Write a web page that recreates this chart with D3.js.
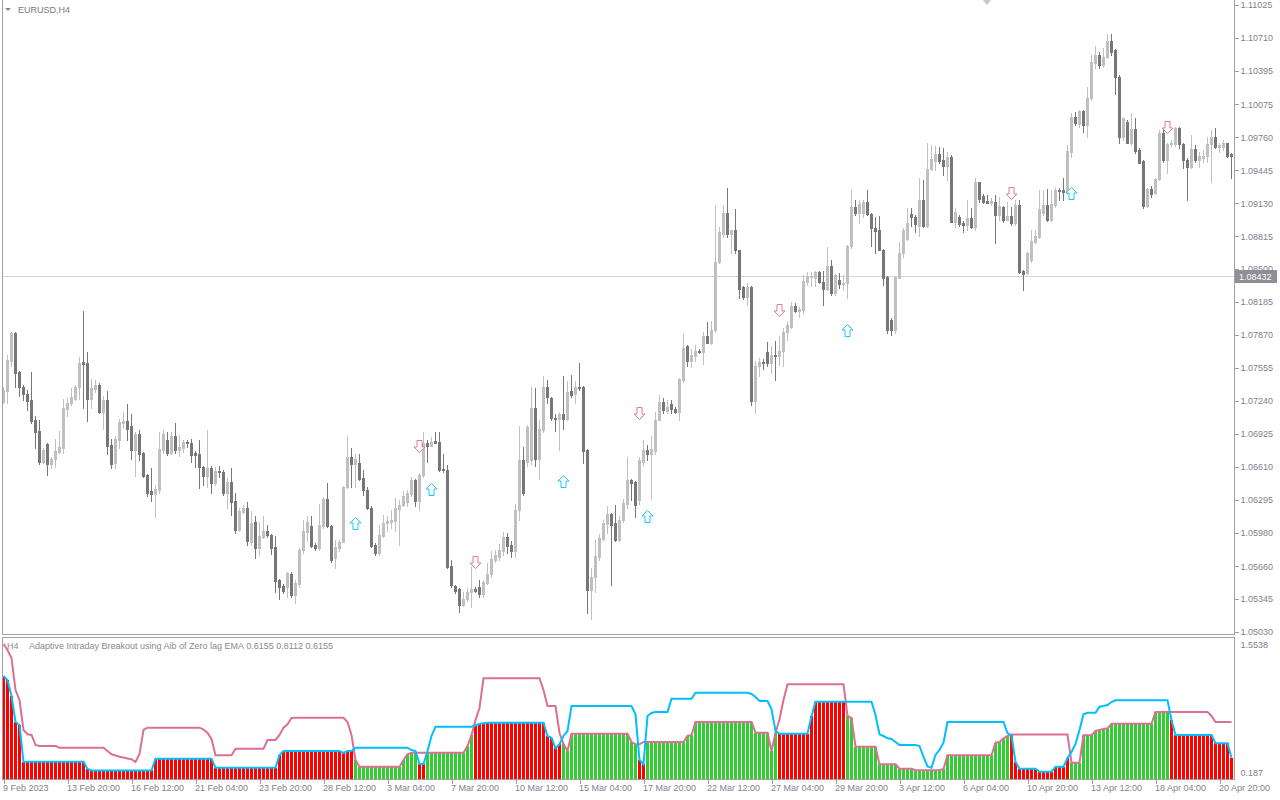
<!DOCTYPE html>
<html><head><meta charset="utf-8">
<script src="https://cdn.jsdelivr.net/npm/d3@7"></script>
<style>
html,body{margin:0;padding:0;background:#fff;overflow:hidden;}
svg{display:block;}
text{font-family:"Liberation Sans",Arial,sans-serif;font-size:9px;}
</style></head><body>
<svg id="c" width="1280" height="800"></svg>
<script>
// ---------- DATA ----------
const symbolTitle = "EURUSD,H4";
const indicatorTitle = "Adaptive Intraday Breakout using Aib of Zero lag EMA 0.6155 0.8112 0.6155";
const opens=[
1.0723,1.0733,1.0762,1.0789,1.0752,1.0737,1.0731,1.0725,1.0706,1.0695,
1.0666,1.0683,1.0664,1.0668,1.0675,1.0679,1.0716,1.0722,1.0726,1.0737,
1.0761,1.0760,1.0726,1.0735,1.0739,1.0713,1.0725,1.0682,1.0665,1.0687,
1.0703,1.0705,1.0700,1.0677,1.0692,1.0674,1.0653,1.0638,1.0635,1.0639,
1.0677,1.0687,1.0674,1.0690,1.0677,1.0679,1.0685,1.0684,1.0674,1.0673,
1.0661,1.0652,1.0660,1.0645,1.0657,1.0656,1.0636,1.0646,1.0628,1.0601,
1.0618,1.0622,1.0589,1.0608,1.0583,1.0594,1.0600,1.0596,1.0584,1.0553,
1.0547,1.0546,1.0558,1.0538,1.0549,1.0581,1.0599,1.0604,1.0586,1.0583,
1.0604,1.0630,1.0604,1.0574,1.0583,1.0589,1.0642,1.0670,1.0664,1.0665,
1.0650,1.0639,1.0622,1.0586,1.0579,1.0595,1.0607,1.0608,1.0609,1.0621,
1.0624,1.0627,1.0635,1.0648,1.0628,1.0653,1.0684,1.0681,1.0686,1.0685,
1.0659,1.0658,1.0566,1.0547,1.0544,1.0529,1.0535,1.0541,1.0544,1.0546,
1.0539,1.0550,1.0558,1.0572,1.0575,1.0580,1.0594,1.0586,1.0580,1.0620,
1.0667,1.0666,1.0667,1.0717,1.0668,1.0696,1.0737,1.0727,1.0708,1.0707,
1.0711,1.0707,1.0733,1.0731,1.0737,1.0737,1.0677,1.0543,1.0556,1.0575,
1.0592,1.0606,1.0616,1.0607,1.0591,1.0610,1.0625,1.0648,1.0646,1.0629,
1.0666,1.0677,1.0673,1.0676,1.0706,1.0723,1.0714,1.0721,1.0716,1.0713,
1.0744,1.0776,1.0762,1.0767,1.0772,1.0771,1.0786,1.0779,1.0792,1.0857,
1.0884,1.0904,1.0884,1.0887,1.0868,1.0833,1.0823,1.0833,1.0724,1.0757,
1.0761,1.0771,1.0760,1.0768,1.0767,1.0772,1.0790,1.0795,1.0815,1.0810,
1.0811,1.0838,1.0842,1.0841,1.0847,1.0838,1.0831,1.0853,1.0827,1.0840,
1.0836,1.0837,1.0872,1.0909,1.0904,1.0904,1.0914,1.0903,1.0889,1.0887,
1.0868,1.0842,1.0801,1.0792,1.0841,1.0865,1.0879,1.0903,1.0900,1.0891,
1.0916,1.0891,1.0946,1.0953,1.0960,1.0954,1.0949,1.0957,1.0895,1.0900,
1.0894,1.0892,1.0899,1.0890,1.0933,1.0920,1.0915,1.0913,1.0914,1.0902,
1.0909,1.0897,1.0901,1.0894,1.0911,1.0848,1.0846,1.0859,1.0876,1.0881,
1.0904,1.0911,1.0897,1.0911,1.0926,1.0926,1.0924,1.0962,1.0995,1.0989,
1.1001,1.0988,1.1014,1.1047,1.1055,1.1045,1.1053,1.1068,1.1059,1.1034,
1.0976,1.0991,1.0971,1.0984,1.0964,1.0953,1.0910,1.0927,1.0923,1.0936,
1.0980,1.0954,1.0970,1.0970,1.0985,1.0970,1.0954,1.0948,1.0965,1.0954,
1.0956,1.0958,1.0970,1.0976,1.0967,1.0967,1.0971,1.0960];
const highs=[
1.0737,1.0768,1.0790,1.0790,1.0753,1.0739,1.0734,1.0752,1.0710,1.0706,
1.0679,1.0684,1.0670,1.0688,1.0695,1.0726,1.0727,1.0736,1.0739,1.0766,
1.0810,1.0771,1.0745,1.0744,1.0741,1.0729,1.0733,1.0688,1.0690,1.0707,
1.0713,1.0721,1.0711,1.0694,1.0696,1.0675,1.0654,1.0660,1.0644,1.0694,
1.0696,1.0694,1.0694,1.0703,1.0691,1.0687,1.0687,1.0688,1.0676,1.0687,
1.0662,1.0696,1.0662,1.0661,1.0662,1.0658,1.0650,1.0660,1.0636,1.0622,
1.0624,1.0627,1.0619,1.0614,1.0608,1.0614,1.0605,1.0597,1.0595,1.0554,
1.0549,1.0560,1.0560,1.0553,1.0583,1.0610,1.0614,1.0614,1.0588,1.0625,
1.0632,1.0645,1.0605,1.0591,1.0591,1.0643,1.0690,1.0679,1.0673,1.0673,
1.0658,1.0642,1.0623,1.0588,1.0605,1.0615,1.0614,1.0620,1.0631,1.0629,
1.0638,1.0639,1.0651,1.0649,1.0655,1.0694,1.0687,1.0689,1.0694,1.0694,
1.0673,1.0663,1.0572,1.0548,1.0545,1.0541,1.0545,1.0565,1.0546,1.0553,
1.0553,1.0569,1.0580,1.0581,1.0587,1.0599,1.0598,1.0590,1.0625,1.0700,
1.0680,1.0701,1.0737,1.0736,1.0706,1.0748,1.0744,1.0728,1.0711,1.0713,
1.0748,1.0743,1.0749,1.0743,1.0760,1.0738,1.0678,1.0564,1.0591,1.0597,
1.0610,1.0623,1.0617,1.0624,1.0614,1.0630,1.0670,1.0649,1.0647,1.0670,
1.0687,1.0682,1.0690,1.0713,1.0730,1.0727,1.0725,1.0725,1.0718,1.0746,
1.0788,1.0777,1.0774,1.0777,1.0774,1.0790,1.0799,1.0800,1.0911,1.0890,
1.0911,1.0928,1.0887,1.0907,1.0868,1.0834,1.0837,1.0834,1.0762,1.0765,
1.0764,1.0780,1.0776,1.0781,1.0786,1.0794,1.0800,1.0819,1.0818,1.0814,
1.0844,1.0847,1.0847,1.0848,1.0848,1.0848,1.0871,1.0859,1.0845,1.0846,
1.0844,1.0873,1.0926,1.0916,1.0916,1.0916,1.0926,1.0904,1.0900,1.0901,
1.0869,1.0843,1.0803,1.0843,1.0876,1.0889,1.0908,1.0908,1.0902,1.0937,
1.0935,1.0971,1.0969,1.0968,1.0967,1.0966,1.0962,1.0959,1.0908,1.0902,
1.0896,1.0916,1.0908,1.0937,1.0933,1.0922,1.0921,1.0918,1.0921,1.0919,
1.0910,1.0914,1.0909,1.0916,1.0916,1.0849,1.0866,1.0887,1.0887,1.0926,
1.0926,1.0927,1.0926,1.0928,1.0928,1.0937,1.0969,1.0999,1.1000,1.1002,
1.1002,1.1024,1.1055,1.1063,1.1058,1.1061,1.1075,1.1075,1.1060,1.1036,
1.0995,1.0993,1.0999,1.0994,1.0966,1.0954,1.0928,1.0929,1.0937,1.0983,
1.0983,1.0971,1.0973,1.0986,1.0986,1.0971,1.0956,1.0978,1.0969,1.0962,
1.0964,1.0976,1.0983,1.0985,1.0971,1.0973,1.0971,1.0961];
const lows=[
1.0722,1.0722,1.0757,1.0737,1.0729,1.0725,1.0715,1.0703,1.0679,1.0664,
1.0665,1.0653,1.0660,1.0661,1.0674,1.0674,1.0710,1.0720,1.0725,1.0726,
1.0717,1.0705,1.0717,1.0732,1.0712,1.0697,1.0673,1.0660,1.0660,1.0679,
1.0698,1.0687,1.0668,1.0652,1.0667,1.0651,1.0633,1.0628,1.0613,1.0636,
1.0674,1.0672,1.0673,1.0674,1.0671,1.0675,1.0680,1.0666,1.0661,1.0641,
1.0644,1.0642,1.0636,1.0644,1.0651,1.0634,1.0622,1.0615,1.0598,1.0600,
1.0617,1.0586,1.0586,1.0574,1.0577,1.0593,1.0594,1.0578,1.0541,1.0535,
1.0540,1.0536,1.0536,1.0531,1.0546,1.0579,1.0590,1.0584,1.0581,1.0581,
1.0602,1.0603,1.0570,1.0564,1.0580,1.0589,1.0641,1.0642,1.0642,1.0648,
1.0634,1.0621,1.0584,1.0577,1.0577,1.0594,1.0600,1.0602,1.0600,1.0586,
1.0623,1.0623,1.0633,1.0623,1.0620,1.0651,1.0666,1.0681,1.0684,1.0657,
1.0656,1.0564,1.0546,1.0540,1.0522,1.0528,1.0533,1.0527,1.0541,1.0536,
1.0536,1.0549,1.0556,1.0570,1.0572,1.0577,1.0579,1.0575,1.0575,1.0610,
1.0634,1.0662,1.0664,1.0662,1.0649,1.0694,1.0722,1.0706,1.0695,1.0677,
1.0697,1.0706,1.0728,1.0722,1.0734,1.0665,1.0521,1.0515,1.0541,1.0572,
1.0591,1.0598,1.0548,1.0590,1.0590,1.0608,1.0622,1.0629,1.0613,1.0625,
1.0662,1.0667,1.0630,1.0673,1.0706,1.0712,1.0712,1.0712,1.0712,1.0706,
1.0742,1.0757,1.0756,1.0762,1.0770,1.0759,1.0779,1.0778,1.0790,1.0856,
1.0881,1.0881,1.0865,1.0865,1.0822,1.0821,1.0816,1.0720,1.0712,1.0748,
1.0754,1.0757,1.0751,1.0744,1.0758,1.0757,1.0782,1.0794,1.0809,1.0804,
1.0808,1.0835,1.0834,1.0834,1.0837,1.0816,1.0830,1.0825,1.0825,1.0832,
1.0830,1.0822,1.0870,1.0902,1.0894,1.0900,1.0902,1.0872,1.0865,1.0868,
1.0835,1.0789,1.0787,1.0789,1.0841,1.0862,1.0878,1.0891,1.0885,1.0882,
1.0890,1.0890,1.0945,1.0945,1.0951,1.0940,1.0935,1.0895,1.0890,1.0891,
1.0885,1.0887,1.0889,1.0887,1.0914,1.0913,1.0913,1.0911,1.0875,1.0897,
1.0895,1.0897,1.0892,1.0892,1.0846,1.0830,1.0845,1.0857,1.0875,1.0880,
1.0902,1.0896,1.0896,1.0909,1.0916,1.0916,1.0922,1.0957,1.0988,1.0986,
1.0981,1.0976,1.1012,1.1042,1.1042,1.1043,1.1052,1.1055,1.1017,1.0971,
1.0973,1.0971,1.0969,1.0961,1.0951,1.0908,1.0909,1.0919,1.0922,1.0935,
1.0952,1.0942,1.0968,1.0968,1.0966,1.0947,1.0916,1.0947,1.0952,1.0948,
1.0952,1.0952,1.0933,1.0966,1.0962,1.0964,1.0957,1.0937];
const closes=[
1.0734,1.0763,1.0789,1.0751,1.0737,1.0731,1.0724,1.0705,1.0694,1.0666,
1.0677,1.0664,1.0668,1.0676,1.0680,1.0717,1.0722,1.0728,1.0737,1.0760,
1.0759,1.0726,1.0736,1.0739,1.0713,1.0725,1.0681,1.0664,1.0688,1.0704,
1.0705,1.0697,1.0677,1.0692,1.0673,1.0652,1.0636,1.0635,1.0640,1.0678,
1.0692,1.0674,1.0690,1.0677,1.0680,1.0685,1.0684,1.0672,1.0672,1.0661,
1.0652,1.0660,1.0645,1.0657,1.0656,1.0636,1.0646,1.0627,1.0601,1.0619,
1.0622,1.0590,1.0607,1.0583,1.0595,1.0600,1.0596,1.0583,1.0552,1.0546,
1.0542,1.0559,1.0538,1.0550,1.0581,1.0600,1.0608,1.0585,1.0583,1.0605,
1.0630,1.0604,1.0572,1.0584,1.0589,1.0642,1.0670,1.0664,1.0668,1.0649,
1.0639,1.0622,1.0585,1.0579,1.0596,1.0607,1.0609,1.0610,1.0622,1.0624,
1.0633,1.0636,1.0648,1.0628,1.0653,1.0684,1.0681,1.0685,1.0684,1.0658,
1.0658,1.0565,1.0548,1.0542,1.0529,1.0535,1.0541,1.0544,1.0542,1.0539,
1.0551,1.0558,1.0573,1.0577,1.0581,1.0594,1.0585,1.0580,1.0620,1.0667,
1.0636,1.0699,1.0717,1.0668,1.0697,1.0737,1.0728,1.0708,1.0707,1.0711,
1.0707,1.0732,1.0730,1.0737,1.0736,1.0676,1.0543,1.0556,1.0576,1.0593,
1.0607,1.0616,1.0605,1.0591,1.0610,1.0626,1.0648,1.0645,1.0624,1.0667,
1.0677,1.0673,1.0678,1.0706,1.0723,1.0715,1.0718,1.0716,1.0713,1.0745,
1.0775,1.0762,1.0768,1.0772,1.0771,1.0786,1.0779,1.0792,1.0857,1.0885,
1.0904,1.0884,1.0887,1.0868,1.0831,1.0823,1.0833,1.0724,1.0757,1.0761,
1.0760,1.0760,1.0768,1.0767,1.0772,1.0790,1.0797,1.0815,1.0810,1.0812,
1.0839,1.0843,1.0843,1.0847,1.0838,1.0831,1.0853,1.0827,1.0844,1.0836,
1.0837,1.0872,1.0909,1.0904,1.0912,1.0914,1.0903,1.0889,1.0886,1.0868,
1.0841,1.0792,1.0792,1.0842,1.0865,1.0887,1.0894,1.0900,1.0893,1.0916,
1.0891,1.0946,1.0955,1.0960,1.0953,1.0949,1.0957,1.0895,1.0905,1.0893,
1.0892,1.0899,1.0890,1.0933,1.0917,1.0914,1.0913,1.0915,1.0902,1.0910,
1.0897,1.0901,1.0894,1.0911,1.0847,1.0845,1.0865,1.0877,1.0882,1.0907,
1.0911,1.0897,1.0912,1.0926,1.0925,1.0924,1.0963,1.0995,1.0990,1.1001,
1.0988,1.1014,1.1048,1.1055,1.1045,1.1053,1.1068,1.1058,1.1034,1.0976,
1.0994,1.0971,1.0984,1.0963,1.0951,1.0910,1.0927,1.0922,1.0936,1.0980,
1.0954,1.0970,1.0971,1.0985,1.0970,1.0954,1.0948,1.0965,1.0954,1.0958,
1.0958,1.0970,1.0976,1.0967,1.0969,1.0971,1.0958,1.0958];

// indicator buffers (one value per bar)
const aibCyan=[
1.2228,1.1801,1.0092,0.7316,0.6996,0.3045,
0.3077,0.3077,0.3077,0.3077,0.3077,0.3077,0.3077,0.3077,0.3077,0.3077,0.3077,0.3077,0.3077,0.3077,0.3077,
0.2297,
0.2137,0.2137,0.2137,0.2137,0.2137,0.2137,0.2137,0.2137,0.2137,0.2137,0.2137,0.2137,0.2137,0.2137,0.2137,0.2137,
0.3398,0.3398,0.3398,0.3398,0.3398,0.3398,0.3398,0.3398,0.3398,0.3398,0.3398,0.3398,0.3398,0.3398,0.3398,
0.2436,0.2436,0.2436,0.2436,0.2436,0.2436,0.2436,0.2436,0.2436,0.2436,0.2436,0.2436,0.2436,0.2436,0.2436,0.2436,
0.3793,
0.4219,0.4219,0.4219,0.4219,0.4219,0.4219,0.4219,0.4219,0.4219,0.4219,0.4219,0.4219,0.4219,0.4219,0.4219,
0.4006,0.4219,0.4219,
0.4572,0.4572,0.4572,0.4572,0.4572,0.4572,0.4572,0.4572,0.4572,0.4572,0.4572,0.4572,0.4572,0.4572,
0.4326,0.4219,0.2831,0.2831,0.4219,0.5821,
0.6814,0.6814,0.6814,0.6814,0.6814,0.6814,0.6814,0.6814,0.6814,0.6814,
0.6964,0.7102,0.7177,
0.7241,0.7241,0.7241,0.7241,0.7241,0.7241,0.7241,0.7241,0.7241,0.7241,0.7241,0.7241,0.7241,0.7241,0.7241,
0.5821,0.5640,0.4508,0.4935,0.5821,0.6356,
0.9024,0.9024,0.9024,0.9024,0.9024,0.9024,0.9024,0.9024,0.9024,0.9024,0.9024,0.9024,0.9024,0.9024,0.9024,0.9024,
0.8138,0.3258,0.2799,0.7957,0.8277,
0.8384,0.8384,0.8384,0.8384,
0.9804,0.9804,0.9804,0.9804,0.9804,0.9804,
1.0445,1.0445,1.0445,1.0445,1.0445,1.0445,1.0445,1.0445,1.0445,1.0445,1.0445,1.0445,1.0445,1.0445,
1.0306,0.9985,0.9558,0.9558,0.9558,0.8704,0.6356,
0.6067,0.6067,0.6067,0.6067,0.6067,0.6067,0.6067,0.6067,
0.7957,
0.9483,0.9483,0.9483,0.9483,0.9483,0.9483,0.9483,0.9483,0.9483,0.9483,0.9483,0.9483,0.9483,0.9483,0.9483,
0.8063,0.6003,0.5821,0.5576,0.5501,0.5181,
0.4861,0.4861,0.4861,0.4861,0.4861,
0.4754,0.3579,0.2564,0.2436,0.3793,0.4326,0.5106,
0.7316,0.7316,0.7316,0.7316,0.7316,0.7316,0.7316,0.7316,0.7316,0.7316,0.7316,0.7316,0.7316,0.7316,0.7316,
0.6142,0.5875,0.3045,
0.2329,0.2329,0.2329,0.2329,0.2329,
0.2009,0.2009,0.2009,0.2009,
0.2543,0.2543,0.2543,
0.3472,0.4113,0.4967,0.6462,0.8138,
0.8309,0.8309,0.8309,
0.8949,0.9024,0.9131,0.9451,
0.9633,0.9633,0.9633,0.9633,0.9633,0.9633,0.9633,0.9633,0.9633,0.9633,0.9633,0.9633,0.9633,0.9633,
0.7529,
0.5928,0.5928,0.5928,0.5928,0.5928,0.5928,0.5928,0.5928,0.5928,0.5928,
0.5042,0.5042,0.5042,0.5042,
0.3504];
const aibPink=[
1.5645,1.5004,1.4150,1.0733,0.9665,0.6462,0.6003,0.5928,0.4861,
0.4754,0.4754,0.4754,0.4754,0.4754,
0.4572,0.4572,0.4572,0.4572,0.4572,0.4572,0.4572,0.4572,0.4572,0.4572,0.4572,0.4572,
0.4219,0.3867,0.3739,0.3611,0.3526,0.3419,0.3334,0.3045,0.3899,0.6462,
0.6708,0.6708,0.6708,0.6708,0.6708,0.6708,0.6708,0.6708,0.6708,0.6708,0.6708,0.6708,0.6708,0.6708,
0.6516,0.6142,0.5501,
0.3761,0.3761,0.3761,0.3761,0.3761,
0.4465,0.4465,0.4465,0.4465,0.4465,0.4465,0.4465,0.4465,
0.5394,0.5394,0.5394,
0.5928,0.6708,0.7070,0.7743,
0.7775,0.7775,0.7775,0.7775,0.7775,0.7775,0.7775,0.7775,0.7775,0.7775,0.7775,0.7775,0.7775,
0.7316,0.5928,0.3258,
0.2543,0.2543,0.2543,0.2543,0.2543,0.2543,0.2543,0.2543,0.2543,0.2543,0.2543,
0.3258,0.3867,
0.4038,0.4038,0.4038,0.4038,0.4038,0.4038,0.4038,0.4038,0.4038,0.4038,0.4038,0.4038,0.4038,0.4038,
0.4754,0.5928,0.7529,0.8811,
1.1982,1.1982,1.1982,1.1982,1.1982,1.1982,1.1982,1.1982,1.1982,1.1982,1.1982,1.1982,1.1982,1.1982,1.1982,
1.0733,0.9024,0.9024,0.9024,0.6142,0.4967,0.4219,
0.6067,0.6067,0.6067,0.6067,0.6067,0.6067,0.6067,0.6067,0.6067,0.6067,0.6067,0.6067,0.6067,0.6067,0.6067,
0.5181,0.4935,0.4935,
0.5181,0.5181,0.5181,0.5181,0.5181,0.5181,0.5181,0.5181,0.5181,0.5181,0.5181,
0.5821,0.5928,
0.7316,0.7316,0.7316,0.7316,0.7316,0.7316,0.7316,0.7316,0.7316,0.7316,0.7316,0.7316,0.7316,0.7316,0.7316,
0.6173,0.6173,0.6173,0.6173,
0.4219,0.6142,0.7604,0.9665,
1.1342,1.1342,1.1342,1.1342,1.1342,1.1342,1.1342,1.1342,1.1342,1.1342,1.1342,1.1342,1.1342,1.1342,1.1342,
0.7957,0.7743,
0.4679,0.4679,0.4679,0.4679,0.4679,0.4679,
0.2799,0.2799,0.2799,0.2799,0.2799,
0.2329,0.2329,0.2329,0.2329,
0.2158,0.2158,0.2158,0.2158,0.2158,0.2158,0.2158,
0.2297,
0.3761,0.3761,0.3761,0.3761,0.3761,0.3761,0.3761,0.3761,0.3761,0.3761,0.3761,0.3761,
0.5106,0.5181,0.5576,0.5821,
0.5982,0.5982,0.5982,0.5982,0.5982,0.5982,0.5982,0.5982,0.5982,0.5982,0.5982,0.5982,0.5982,0.5982,0.5982,
0.2970,0.2970,0.2970,
0.5896,0.5896,0.5896,
0.6356,0.6462,0.6569,0.6644,
0.7134,0.7134,0.7134,0.7134,0.7134,0.7134,0.7134,0.7134,0.7134,0.7134,0.7134,
0.8384,0.8384,0.8384,0.8384,0.8384,0.8384,0.8384,0.8384,0.8384,0.8384,0.8384,0.8384,0.8384,0.8384,
0.7957,
0.7316,0.7316,0.7316,0.7316,0.7316];

// signal arrows
const arrowBar   = [88, 104, 107, 118, 140, 159, 161, 194, 211, 252, 267, 291];
const arrowPrice = [1.0607,1.0681,1.0640,1.0570,1.0647,1.0712,1.0614,1.0811,1.0792,1.0923,1.0923,1.0986];
const arrowDir   = ["up","down","up","down","up","down","up","down","up","down","up","down"];

const priceTicks=[1.11025,1.10710,1.10395,1.10075,1.09760,1.09445,1.09130,1.08815,1.08500,1.08185,
1.07870,1.07555,1.07240,1.06925,1.06610,1.06295,1.05980,1.05660,1.05345,1.05030];
const timeTickBars=[0,16,32,48,64,80,96,112,128,144,160,176,192,208,224,240,256,272,288,304];
const timeTickLabels=["9 Feb 2023","13 Feb 20:00","16 Feb 12:00","21 Feb 04:00","23 Feb 20:00","28 Feb 12:00",
"3 Mar 04:00","7 Mar 20:00","10 Mar 12:00","15 Mar 04:00","17 Mar 20:00","22 Mar 12:00","27 Mar 04:00",
"29 Mar 20:00","3 Apr 12:00","6 Apr 04:00","10 Apr 20:00","13 Apr 12:00","18 Apr 04:00","20 Apr 20:00"];
const indTicks=[1.5538, 0.187];
const indTickLabels=["1.5538","0.187"];
const bidPrice = 1.08432;

// ---------- LAYOUT ----------
const N = opens.length;
const L = 2, R = 1234, mainTop = 0, mainBot = 634, indTop = 637, indBot = 779;
const svg = d3.select('#c');
const axisCol = '#a0a0a0', labelCol = '#7f7f8f';
const upCol = '#c0c0c0', dnCol = '#777777';

const x = d3.scaleLinear().domain([0, N-1]).range([2, 2 + 4*(N-1)]);
const y = d3.scaleLinear().domain([1.05030, 1.11025]).range([632, 5]);
const iy = d3.scaleLinear().domain([0.187, 1.5538]).range([773, 645]);

const defs = svg.append('defs');
defs.append('clipPath').attr('id','cm').append('rect').attr('x',L+1).attr('y',0).attr('width',R-L-1).attr('height',mainBot);
defs.append('clipPath').attr('id','ci').append('rect').attr('x',L+1).attr('y',indTop+1).attr('width',R-L-1).attr('height',indBot-indTop-1);

// bid line
const yb = Math.round(y(bidPrice)) + 0.5;
svg.append('line').attr('x1',L).attr('x2',R).attr('y1',yb).attr('y2',yb).attr('stroke','#d4d4d4').attr('stroke-width',1);

// candles
const bars = d3.range(N).map(i=>({i,o:opens[i],h:highs[i],l:lows[i],c:closes[i]}));
const gm = svg.append('g').attr('clip-path','url(#cm)').attr('shape-rendering','crispEdges');
gm.selectAll('rect.w').data(bars).join('rect').attr('class','w')
  .attr('x',d=>x(d.i)+1).attr('width',1)
  .attr('y',d=>Math.round(y(d.h)))
  .attr('height',d=>Math.max(1,Math.round(y(d.l))-Math.round(y(d.h))+1))
  .attr('fill',d=>d.c>=d.o?upCol:dnCol);
gm.selectAll('rect.b').data(bars).join('rect').attr('class','b')
  .attr('x',d=>x(d.i)).attr('width',3)
  .attr('y',d=>Math.round(y(Math.max(d.o,d.c))))
  .attr('height',d=>Math.max(1,Math.round(y(Math.min(d.o,d.c)))-Math.round(y(Math.max(d.o,d.c)))+1))
  .attr('fill',d=>d.c>=d.o?upCol:dnCol);

// arrows
const upPath = "M0,-6 L5.5,-0.5 L2.5,-0.5 L2.5,6 L-2.5,6 L-2.5,-0.5 L-5.5,-0.5 Z";
const dnPath = "M0,6 L5.5,0.5 L2.5,0.5 L2.5,-6 L-2.5,-6 L-2.5,0.5 L-5.5,0.5 Z";
gm.selectAll('path.arr').data(arrowBar.map((b,k)=>({b,p:arrowPrice[k],d:arrowDir[k]}))).join('path')
  .attr('class','arr')
  .attr('transform',d=>`translate(${x(d.b)+1.5},${Math.round(y(d.p))+0.5})`)
  .attr('d',d=>d.d==='up'?upPath:dnPath)
  .attr('fill','#fff').attr('stroke',d=>d.d==='up'?'#1ec8f5':'#e0799e').attr('stroke-width',1)
  .attr('shape-rendering','auto');

// indicator histogram
const gi = svg.append('g').attr('clip-path','url(#ci)');
const ind = d3.range(N).map(i=>({i,c:aibCyan[i],p:aibPink[i]}));
gi.selectAll('rect.h').data(ind).join('rect').attr('class','h')
  .attr('shape-rendering','crispEdges')
  .attr('x',d=>x(d.i)).attr('width',3)
  .attr('y',d=>Math.round(iy(Math.min(d.c,d.p))))
  .attr('height',d=>indBot-Math.round(iy(Math.min(d.c,d.p))))
  .attr('fill',d=>d.c<d.p?'#ff0000':'#32cd32');
const line = (arr)=>d3.line().x((v,i)=>x(i)+1.5).y(v=>iy(v))(arr);
gi.append('path').attr('d',line(aibPink)).attr('fill','none').attr('stroke','#db7093').attr('stroke-width',2);
gi.append('path').attr('d',line(aibCyan)).attr('fill','none').attr('stroke','#00bfff').attr('stroke-width',2);

// frames
const fr = svg.append('g').attr('shape-rendering','crispEdges').attr('stroke',axisCol).attr('fill','none');
fr.append('line').attr('x1',L+0.5).attr('x2',L+0.5).attr('y1',0).attr('y2',mainBot+0.5);
fr.append('line').attr('x1',R+0.5).attr('x2',R+0.5).attr('y1',0).attr('y2',mainBot+0.5);
fr.append('line').attr('x1',L).attr('x2',R+1).attr('y1',mainBot+0.5).attr('y2',mainBot+0.5);
fr.append('rect').attr('x',L+0.5).attr('y',indTop+0.5).attr('width',R-L).attr('height',indBot-indTop);

// price axis
const pa = svg.append('g').attr('transform',`translate(${R+0.5},0)`)
  .call(d3.axisRight(y).tickValues(priceTicks).tickFormat(d3.format('.5f')).tickSize(4).tickPadding(2));
pa.select('.domain').remove();
pa.selectAll('line').attr('stroke',axisCol).attr('shape-rendering','crispEdges');
pa.selectAll('text').attr('fill',labelCol).style('font-size','9px').style('font-family','"Liberation Sans",Arial,sans-serif');

// bid label
svg.append('rect').attr('x',R+1).attr('y',yb-6.5).attr('width',42).attr('height',13).attr('fill','#8e8e96');
svg.append('text').attr('x',R+5).attr('y',yb+3.2).attr('fill','#fff').text(d3.format('.5f')(bidPrice));

// indicator axis
const ia = svg.append('g').attr('transform',`translate(${R+0.5},0)`)
  .call(d3.axisRight(iy).tickValues(indTicks).tickFormat((d,k)=>indTickLabels[k]).tickSize(0).tickPadding(6));
ia.select('.domain').remove();
ia.selectAll('text').attr('fill',labelCol).style('font-size','9px').style('font-family','"Liberation Sans",Arial,sans-serif');

// time axis
const ta = svg.append('g').attr('transform',`translate(0,${indBot+0.5})`)
  .call(d3.axisBottom(d3.scaleLinear().domain([0,N-1]).range([x(0)+1.5, x(N-1)+1.5]))
    .tickValues(timeTickBars).tickFormat((d,k)=>timeTickLabels[k]).tickSize(4).tickPadding(1));
ta.select('.domain').remove();
ta.selectAll('line').attr('stroke',axisCol).attr('shape-rendering','crispEdges');
ta.selectAll('text').attr('fill',labelCol).attr('text-anchor','start').attr('dx','-1').style('font-size','9px').style('font-family','"Liberation Sans",Arial,sans-serif');

// titles
svg.append('path').attr('d','M5,8 L11,8 L8,11 Z').attr('fill','#8a8a8a');
svg.append('text').attr('x',18).attr('y',13).attr('fill','#7a7a7a').text(symbolTitle);
svg.append('path').attr('d','M983,0 L991,0 L987,5 Z').attr('fill','#c8c8c8');
svg.append('text').attr('x',7).attr('y',649).attr('fill','#8a8a8a').text('H4');
svg.append('text').attr('x',29).attr('y',649).attr('fill','#8a8a8a').text(indicatorTitle);
</script>
</body></html>
